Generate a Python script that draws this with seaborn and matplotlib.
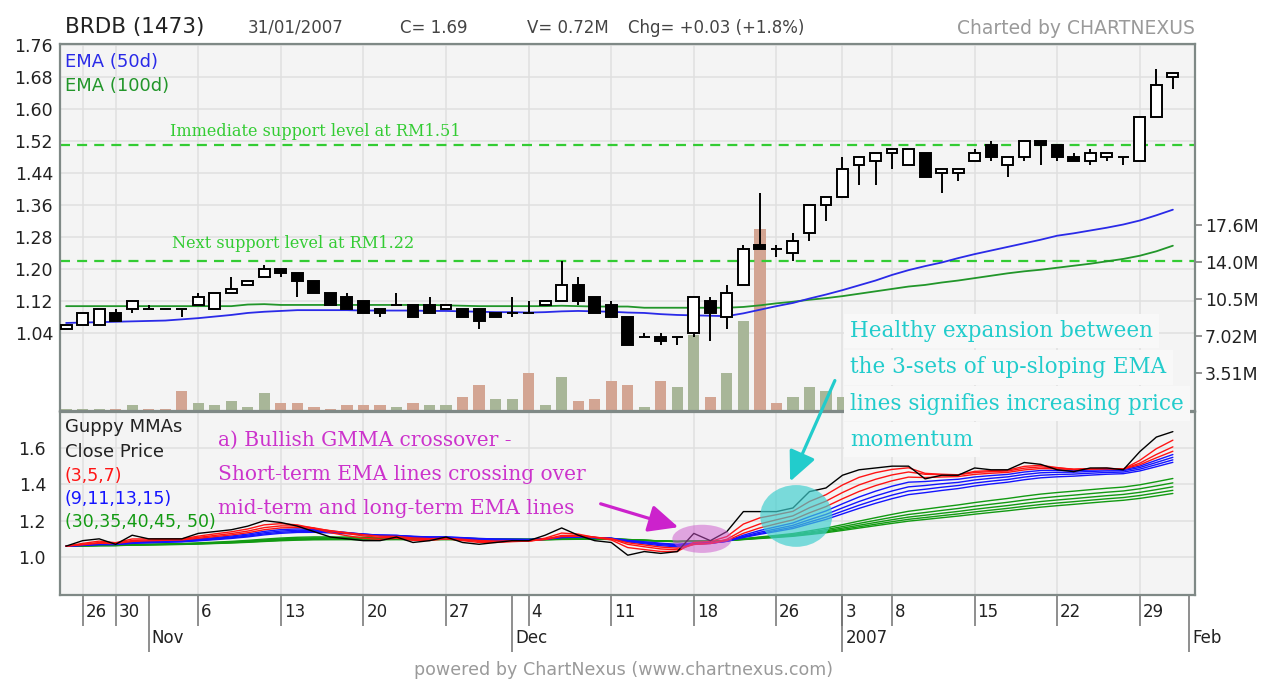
import numpy as np
import pandas as pd
import matplotlib
matplotlib.use("Agg")
import matplotlib.pyplot as plt
import seaborn as sns
from matplotlib.patches import Ellipse, FancyArrowPatch
from matplotlib.transforms import blended_transform_factory as blend, IdentityTransform

sns.set_style("white")
plt.rcParams['font.family'] = ['DejaVu Sans']

# ---------------- data (trading-day index: -1 = 25 Oct 2006 ... 66 = 31 Jan 2007) -------------
days = list(range(-1, 67))
opens = [1.05, 1.06, 1.06, 1.09, 1.10, 1.10, 1.10, 1.10, 1.11, 1.10,
         1.14, 1.16, 1.18, 1.20, 1.19, 1.17, 1.14, 1.13, 1.12, 1.10,
         1.11, 1.11, 1.11, 1.10, 1.10, 1.10, 1.09, 1.09, 1.09, 1.11,
         1.12, 1.16, 1.13, 1.11, 1.08, 1.03, 1.03, 1.03, 1.04, 1.12,
         1.08, 1.16, 1.26, 1.25, 1.24, 1.29, 1.36, 1.38, 1.46, 1.47,
         1.49, 1.46, 1.49, 1.44, 1.44, 1.47, 1.51, 1.46, 1.48, 1.52,
         1.51, 1.48, 1.47, 1.48, 1.48, 1.47, 1.58, 1.68]
highs = [1.06, 1.09, 1.10, 1.10, 1.12, 1.11, 1.10, 1.10, 1.14, 1.14,
         1.18, 1.17, 1.21, 1.20, 1.19, 1.17, 1.14, 1.14, 1.12, 1.10,
         1.14, 1.11, 1.13, 1.11, 1.10, 1.10, 1.09, 1.13, 1.12, 1.12,
         1.22, 1.18, 1.13, 1.12, 1.08, 1.04, 1.04, 1.03, 1.13, 1.13,
         1.16, 1.26, 1.39, 1.26, 1.29, 1.36, 1.38, 1.48, 1.48, 1.49,
         1.50, 1.50, 1.49, 1.45, 1.45, 1.50, 1.52, 1.48, 1.52, 1.52,
         1.51, 1.49, 1.50, 1.49, 1.48, 1.58, 1.70, 1.69]
lows = [1.05, 1.06, 1.06, 1.07, 1.09, 1.10, 1.10, 1.08, 1.11, 1.10,
        1.14, 1.16, 1.18, 1.18, 1.13, 1.14, 1.11, 1.10, 1.09, 1.08,
        1.11, 1.08, 1.09, 1.10, 1.08, 1.05, 1.08, 1.08, 1.09, 1.11,
        1.12, 1.11, 1.09, 1.08, 1.01, 1.03, 1.01, 1.01, 1.03, 1.02,
        1.05, 1.16, 1.25, 1.23, 1.22, 1.27, 1.32, 1.38, 1.41, 1.41,
        1.45, 1.46, 1.43, 1.39, 1.42, 1.47, 1.47, 1.43, 1.47, 1.46,
        1.47, 1.47, 1.46, 1.47, 1.46, 1.47, 1.58, 1.65]
closes = [1.06, 1.09, 1.10, 1.07, 1.12, 1.10, 1.10, 1.10, 1.13, 1.14,
          1.15, 1.17, 1.20, 1.19, 1.17, 1.14, 1.11, 1.10, 1.09, 1.09,
          1.11, 1.08, 1.09, 1.11, 1.08, 1.07, 1.08, 1.09, 1.09, 1.12,
          1.16, 1.12, 1.09, 1.08, 1.01, 1.03, 1.02, 1.03, 1.13, 1.09,
          1.14, 1.25, 1.25, 1.25, 1.27, 1.36, 1.38, 1.45, 1.48, 1.49,
          1.50, 1.50, 1.43, 1.45, 1.45, 1.49, 1.48, 1.48, 1.52, 1.51,
          1.48, 1.47, 1.49, 1.49, 1.48, 1.58, 1.66, 1.69]
volume_m = [0.05, 0.05, 0.05, 0.08, 0.47, 0.05, 0.05, 1.80, 0.63, 0.47,
            0.82, 0.30, 1.58, 0.63, 0.63, 0.30, 0.05, 0.47, 0.47, 0.47,
            0.30, 0.63, 0.47, 0.47, 1.20, 2.37, 1.04, 1.04, 3.54, 0.44,
            3.10, 0.85, 1.04, 2.78, 2.37, 0.25, 2.75, 2.15, 7.10, 1.20,
            3.54, 8.44, 17.2, 0.69, 1.20, 2.15, 1.83, 1.20, 1.00, 0.90,
            0.80, 0.70, 1.20, 0.80, 0.50, 0.90, 0.70, 0.60, 0.90, 0.50,
            0.60, 0.40, 0.50, 0.40, 0.30, 1.50, 1.20, 0.72]
vol_up = [1, 1, 1, 0, 1, 0, 0, 0, 1, 1,
          1, 1, 1, 0, 0, 0, 0, 0, 0, 0,
          1, 0, 1, 1, 0, 0, 1, 1, 0, 1,
          1, 0, 0, 0, 0, 1, 0, 1, 1, 0,
          1, 1, 0, 0, 1, 1, 1, 1, 1, 1,
          1, 1, 0, 1, 1, 1, 0, 1, 1, 0,
          0, 0, 1, 1, 0, 1, 1, 1]
ema50 = [1.066, 1.067, 1.068, 1.069, 1.070, 1.071, 1.072, 1.075, 1.078, 1.082,
         1.086, 1.091, 1.094, 1.096, 1.098, 1.098, 1.098, 1.098, 1.097, 1.097,
         1.097, 1.097, 1.096, 1.096, 1.095, 1.094, 1.093, 1.093, 1.092, 1.093,
         1.095, 1.096, 1.095, 1.094, 1.092, 1.091, 1.088, 1.086, 1.085, 1.084,
         1.083, 1.090, 1.099, 1.108, 1.116, 1.127, 1.137, 1.148, 1.160, 1.172,
         1.186, 1.198, 1.208, 1.217, 1.228, 1.238, 1.247, 1.256, 1.265, 1.274,
         1.284, 1.290, 1.297, 1.304, 1.312, 1.322, 1.335, 1.349]
ema100 = [1.108, 1.108, 1.108, 1.108, 1.108, 1.108, 1.108, 1.108, 1.108, 1.108,
          1.108, 1.112, 1.113, 1.111, 1.111, 1.111, 1.111, 1.111, 1.111, 1.111,
          1.111, 1.111, 1.111, 1.110, 1.109, 1.108, 1.108, 1.108, 1.108, 1.108,
          1.109, 1.108, 1.107, 1.107, 1.107, 1.104, 1.104, 1.104, 1.104, 1.104,
          1.104, 1.106, 1.110, 1.115, 1.119, 1.124, 1.128, 1.133, 1.139, 1.145,
          1.151, 1.157, 1.161, 1.167, 1.172, 1.178, 1.184, 1.190, 1.195, 1.199,
          1.204, 1.209, 1.214, 1.220, 1.226, 1.234, 1.245, 1.259]
support_levels = [1.51, 1.22]
short_spans = [3, 5, 7]
mid_spans = [9, 11, 13, 15]
long_spans = [30, 35, 40, 45, 50]

price_ticks = [1.04, 1.12, 1.20, 1.28, 1.36, 1.44, 1.52, 1.60, 1.68, 1.76]
vol_ticks = [3.51, 7.02, 10.53, 14.04, 17.55]
vol_tick_labels = ['3.51M', '7.02M', '10.5M', '14.0M', '17.6M']
gmma_ticks = [1.0, 1.2, 1.4, 1.6]
week_ticks = [0, 2, 7, 12, 17, 22, 27, 32, 37, 42, 46, 49, 54, 59, 64]
week_labels = ['26', '30', '6', '13', '20', '27', '4', '11', '18', '26', '3', '8', '15', '22', '29']
month_ticks = [4, 26, 46, 67]
month_labels = ['Nov', 'Dec', '2007', 'Feb']

# ---------------- styling ----------------
W, H = 1267, 680
BG = '#f4f4f4'
GRID = '#e0e0e0'
FRAME = '#7f8986'
UPV = '#a8b698'
DNV = '#d3a593'

def fx(px):
    return px / W

def fy(py):
    return 1 - py / H

fig = plt.figure(figsize=(W / 100, H / 100), dpi=100)
fig.patch.set_facecolor('white')

L, R = 60, 1195
ax_top = fig.add_axes([fx(L), fy(411), fx(R) - fx(L), fy(44) - fy(411)])
axv = ax_top.twinx()
ax_bot = fig.add_axes([fx(L), fy(595), fx(R) - fx(L), fy(412) - fy(595)], sharex=ax_top)

ax_top.set_zorder(3)
axv.set_zorder(2)
ax_bot.set_zorder(1)
ax_top.patch.set_visible(False)
axv.patch.set_visible(True)
axv.set_facecolor(BG)
ax_bot.set_facecolor(BG)

XMIN, XMAX = -1.37, 67.34
ax_top.set_xlim(XMIN, XMAX)
ax_top.set_ylim(0.846, 1.763)
axv.set_ylim(-0.1, 34.7)
ax_bot.set_ylim(0.791, 1.798)

# ---- background grid of the price panel (on volume axes so bars sit above it)
tb = blend(axv.transAxes, ax_top.transData)
for p in price_ticks:
    axv.plot([0, 1], [p, p], transform=tb, color=GRID, lw=1.1, zorder=0)
for x in week_ticks:
    axv.axvline(x, color=GRID, lw=1.1, zorder=0)

# ---- volume bars
axv.bar(days, volume_m, width=0.68, color=[UPV if u else DNV for u in vol_up],
        edgecolor='none', zorder=1)

# ---- support lines
for lvl in support_levels:
    ax_top.axhline(lvl, color='#33cc33', lw=1.6, ls=(0, (4.5, 3.2)), zorder=2)

# ---- EMA lines
sns.lineplot(x=days, y=ema100, ax=ax_top, color='#22962a', lw=1.3, zorder=3)
sns.lineplot(x=days, y=ema50, ax=ax_top, color='#2a2ae8', lw=1.3, zorder=3)

# ---- candles
o = np.array(opens)
c = np.array(closes)
up = c >= o
ax_top.vlines(days, lows, highs, color='black', lw=1.4, zorder=4)
ax_top.bar(days, c - o, bottom=o, width=0.66,
           color=np.where(up, 'white', 'black'), edgecolor='black', lw=1.4, zorder=5)

# ---- price axis formatting
ax_top.set_yticks(price_ticks)
ax_top.set_yticklabels([f'{p:.2f}' for p in price_ticks])
ax_top.tick_params(axis='y', length=0, pad=5, labelsize=12.5, labelcolor='#222222')
ax_top.tick_params(axis='x', which='both', length=0, bottom=False, labelbottom=False)
ax_top.set_xticks(week_ticks)
ax_top.set_xticks(month_ticks, minor=True)
ax_top.grid(False)
for s in ax_top.spines.values():
    s.set_color(FRAME)
    s.set_linewidth(1.6)

axv.set_yticks(vol_ticks)
axv.set_yticklabels(vol_tick_labels)
axv.tick_params(axis='y', right=True, length=5, width=1.1, color='#777777', pad=2,
                labelsize=12.5, labelcolor='#222222', direction='out')
for s in axv.spines.values():
    s.set_visible(False)

# ---------------- GMMA panel ----------------
close_s = pd.Series(closes, index=days)
for span in long_spans:
    sns.lineplot(x=days, y=close_s.ewm(span=span, adjust=False).mean().values,
                 ax=ax_bot, color='#129a12', lw=1.0, zorder=3)
for span in mid_spans:
    sns.lineplot(x=days, y=close_s.ewm(span=span, adjust=False).mean().values,
                 ax=ax_bot, color='#1414ff', lw=1.0, zorder=4)
for span in short_spans:
    sns.lineplot(x=days, y=close_s.ewm(span=span, adjust=False).mean().values,
                 ax=ax_bot, color='#ff1414', lw=1.0, zorder=5)
sns.lineplot(x=days, y=closes, ax=ax_bot, color='black', lw=1.0, zorder=6)

ax_bot.set_ylim(0.791, 1.798)
ax_bot.set_xlim(XMIN, XMAX)
ax_bot.set_yticks(gmma_ticks)
ax_bot.set_yticklabels([f'{v:.1f}' for v in gmma_ticks])
ax_bot.tick_params(axis='y', length=0, pad=10, labelsize=12.5, labelcolor='#222222')
ax_bot.xaxis.remove_overlapping_locs = False
ax_bot.tick_params(axis='x', which='major', bottom=True, length=22.5, width=1.1, color='#707070',
                   direction='out', labelbottom=False)
ax_bot.tick_params(axis='x', which='minor', bottom=True, length=41, width=1.1, color='#707070',
                   direction='out', labelbottom=False)
ax_bot.grid(True, which='major', color=GRID, lw=1.1)
ax_bot.set_axisbelow(True)
for s in ax_bot.spines.values():
    s.set_color(FRAME)
    s.set_linewidth(1.6)

# ellipses highlighting crossover / expansion
ax_bot.add_patch(Ellipse((37.5, 1.10), width=3.6, height=0.155,
                         facecolor='#cc55cc', alpha=0.5, edgecolor='none', zorder=7))
ax_bot.add_patch(Ellipse((43.2, 1.226), width=4.36, height=0.34,
                         facecolor='#3fcfcf', alpha=0.68, edgecolor='none', zorder=7))

# x tick labels (placed beside the tick lines)
tl = blend(ax_bot.transData, fig.transFigure)
for x, lab in zip(week_ticks, week_labels):
    fig.text(x + 0.17, fy(612), lab, transform=tl, ha='left', va='center',
             fontsize=12, color='#222222', zorder=10)
for x, lab in zip(month_ticks, month_labels):
    fig.text(x + 0.17, fy(638), lab, transform=tl, ha='left', va='center',
             fontsize=12, color='#222222', zorder=10)

# ---------------- header / footer ----------------
fig.text(fx(65), fy(27), 'BRDB (1473)', fontsize=15.5, color='#222222', va='center', zorder=10)
fig.text(fx(248), fy(28), '31/01/2007', fontsize=12, color='#444444', va='center', zorder=10)
fig.text(fx(400), fy(28), 'C= 1.69', fontsize=12, color='#444444', va='center', zorder=10)
fig.text(fx(527), fy(28), 'V= 0.72M', fontsize=12, color='#444444', va='center', zorder=10)
fig.text(fx(628), fy(28), 'Chg= +0.03 (+1.8%)', fontsize=12, color='#444444', va='center', zorder=10)
fig.text(fx(1195), fy(28), 'Charted by CHARTNEXUS', fontsize=13.5, color='#9a9a9a',
         va='center', ha='right', zorder=10)
fig.text(fx(624), fy(670), 'powered by ChartNexus (www.chartnexus.com)', fontsize=12.6,
         color='#9a9a9a', va='center', ha='center', zorder=10)

# legends inside panels
fig.text(fx(65), fy(62), 'EMA (50d)', fontsize=13, color='#2a2ae8', va='center', zorder=10)
fig.text(fx(65), fy(86), 'EMA (100d)', fontsize=13, color='#22962a', va='center', zorder=10)
fig.text(fx(65), fy(427), 'Guppy MMAs', fontsize=13, color='#222222', va='center', zorder=10)
fig.text(fx(65), fy(452), 'Close Price', fontsize=13, color='#222222', va='center', zorder=10)
fig.text(fx(65), fy(476), '(3,5,7)', fontsize=12.5, color='#ff1414', va='center', zorder=10)
fig.text(fx(65), fy(499), '(9,11,13,15)', fontsize=12.5, color='#1414ff', va='center', zorder=10)
fig.text(fx(65), fy(522), '(30,35,40,45, 50)', fontsize=12.5, color='#129a12', va='center', zorder=10)

# ---------------- annotations ----------------
serif = ['DejaVu Serif']
fig.text(fx(170), fy(131), 'Immediate support level at RM1.51', fontsize=11.6, family=serif,
         color='#33cc33', va='center', zorder=10)
fig.text(fx(172), fy(243), 'Next support level at RM1.22', fontsize=11.6, family=serif,
         color='#33cc33', va='center', zorder=10)

mag_lines = ['a) Bullish GMMA crossover -',
             'Short-term EMA lines crossing over',
             'mid-term and long-term EMA lines']
for k, line in enumerate(mag_lines):
    fig.text(fx(218), fy(440 + 34 * k), line, fontsize=14.5, family=serif,
             color='#cc33cc', va='center', zorder=10)

cyan_lines = ['Healthy expansion between',
              'the 3-sets of up-sloping EMA',
              'lines signifies increasing price',
              'momentum']
for k, line in enumerate(cyan_lines):
    fig.text(fx(850), fy(331 + 36.3 * k), line, fontsize=15.5, family=serif,
             color='#22cccc', va='center', zorder=10,
             bbox=dict(boxstyle='square,pad=0.3', fc='#f8f8f8', ec='none'))

# arrows (figure pixel coordinates)
fig.add_artist(FancyArrowPatch((598, H - 503), (681, H - 528), transform=IdentityTransform(),
                               arrowstyle='-|>,head_length=1.3,head_width=0.6',
                               mutation_scale=14, color='#cc22cc', lw=2.3, zorder=11))
fig.add_artist(FancyArrowPatch((836, H - 378), (789, H - 484), transform=IdentityTransform(),
                               arrowstyle='-|>,head_length=1.3,head_width=0.6',
                               mutation_scale=14, color='#22cccc', lw=2.3, zorder=11))

fig.savefig('out.png', dpi=100, facecolor='white')
